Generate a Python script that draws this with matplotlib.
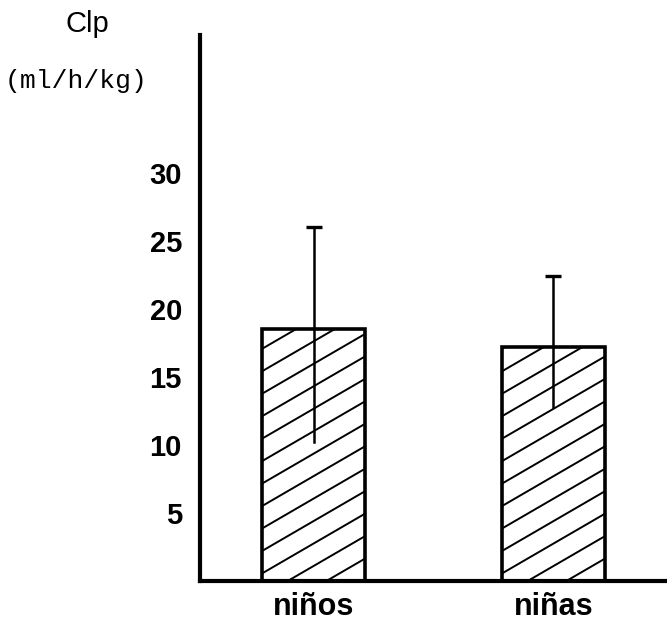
import numpy as np
import matplotlib.pyplot as plt

# values
groups = ['niños', 'niñas']
clp_mean = [18.5, 17.2]
err_low = [8.3, 4.4]
err_high = [7.5, 5.2]
yticks = [5, 10, 15, 20, 25, 30]

plt.rcParams['font.family'] = ['Liberation Sans', 'DejaVu Sans']

fig = plt.figure(figsize=(6.67, 6.26), dpi=100)
ax = fig.add_axes([0.2999, 0.0719, 0.7001, 0.872])

x = np.arange(len(groups))
bars = ax.bar(x, clp_mean, width=0.43, color='white', edgecolor='black',
              linewidth=2.6, zorder=2)

# shallow diagonal hatching, clipped to each bar
for bar in bars:
    left = bar.get_x()
    right = left + bar.get_width()
    top = bar.get_height()
    rise = 4.4
    step = 1.65
    for b in np.arange(-rise, top + step, step):
        ln, = ax.plot([left, right], [b, b + rise], color='black', lw=1.4, zorder=3)
        ln.set_clip_path(bar)

# error bars: only the top gets a cap
for i in range(len(groups)):
    lo = clp_mean[i] - err_low[i]
    hi = clp_mean[i] + err_high[i]
    ax.plot([x[i], x[i]], [lo, hi], color='black', lw=1.8, zorder=4)
    ax.plot([x[i]], [hi], marker='_', ms=11, mew=2.4, color='black', zorder=4)

ax.set_xlim(-0.473, 1.473)
ax.set_ylim(0, 40.1)
ax.set_yticks(yticks)
ax.set_yticklabels([str(t) for t in yticks], fontsize=21, fontweight='bold')
ax.set_xticks(x)
ax.set_xticklabels(groups, fontsize=22, fontweight='bold')
ax.tick_params(axis='both', length=0)
ax.tick_params(axis='y', pad=13)
ax.tick_params(axis='x', pad=8)

for s in ['top', 'right']:
    ax.spines[s].set_visible(False)
ax.spines['left'].set_linewidth(3)
ax.spines['bottom'].set_linewidth(3)

fig.text(0.131, 1 - 32 / 626, 'Clp', fontsize=21, ha='center', va='baseline')
fig.text(0.114, 1 - 81 / 626, '(ml/h/kg)', fontsize=19, ha='center', va='center',
         family=['Liberation Mono', 'DejaVu Sans Mono'])

plt.savefig('out.png', dpi=100)
